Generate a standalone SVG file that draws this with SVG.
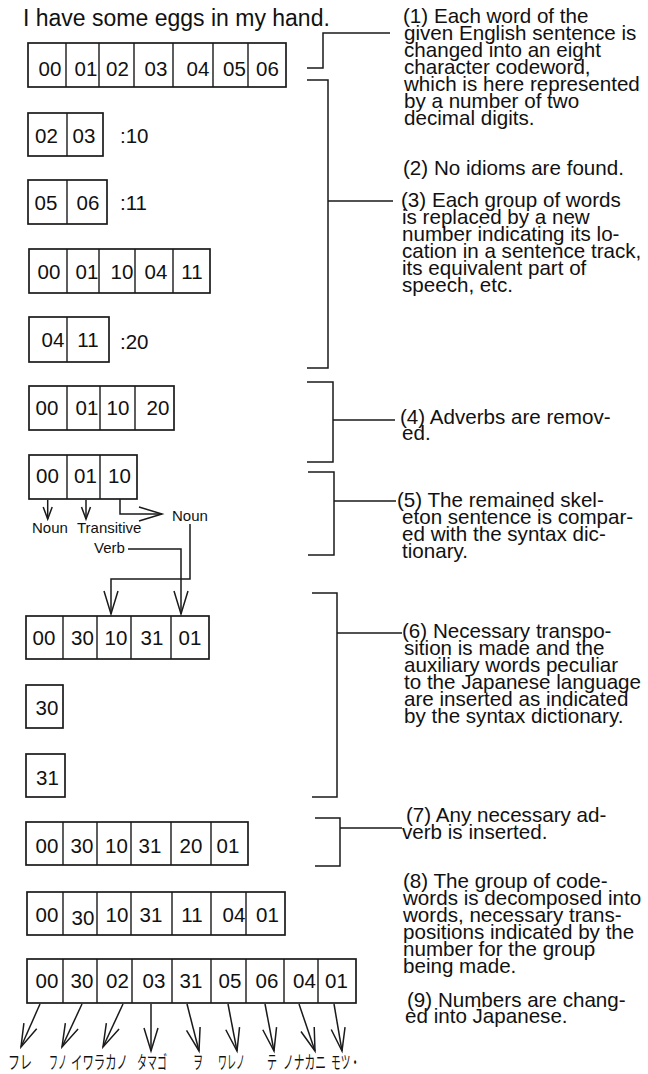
<svg xmlns="http://www.w3.org/2000/svg" width="648" height="1074" viewBox="0 0 648 1074">
<style>
.bx{fill:#fff;stroke:#1a1a1a;stroke-width:1.7}
.dv{stroke:#1a1a1a;stroke-width:1.4}
.d{font-family:"Liberation Sans",Arial,sans-serif;font-size:20.5px;fill:#111;text-anchor:middle}
.lbl{font-family:"Liberation Sans",Arial,sans-serif;font-size:20.5px;fill:#111}
.t{font-family:"Liberation Sans",Arial,sans-serif;font-size:20.6px;fill:#111}
.s{font-family:"Liberation Sans",Arial,sans-serif;font-size:15px;fill:#111}
.jp{font-family:"Noto Sans CJK JP","Noto Sans CJK SC",sans-serif;font-size:18px;fill:#111}
.c{fill:none;stroke:#1a1a1a;stroke-width:1.5}
</style>
<defs>
<marker id="ahS" markerUnits="userSpaceOnUse" viewBox="-14 -6 16 12" markerWidth="16" markerHeight="12" refX="0" refY="0" orient="auto" overflow="visible"><path d="M-12,-4.5 L0,0 L-12,4.5" fill="none" stroke="#1a1a1a" stroke-width="1.5"/></marker>
<marker id="ahL" markerUnits="userSpaceOnUse" viewBox="-26 -10 30 20" markerWidth="30" markerHeight="20" refX="0" refY="0" orient="auto" overflow="visible"><path d="M-23,-7 L0,0 L-23,7" fill="none" stroke="#1a1a1a" stroke-width="1.5"/></marker>
</defs>
<rect width="648" height="1074" fill="#fff"/>

<text class="lbl" x="23" y="26" style="font-size:23px">I have some eggs in my hand.</text>

<g id="row1">
<rect class="bx" x="28" y="43" width="258" height="44"/>
<path class="dv" d="M66,43V87M99,43V87M134,43V87M173,43V87M213,43V87M248,43V87"/>
<text class="d" y="76"><tspan x="50">00</tspan><tspan x="86">01</tspan><tspan x="117.5">02</tspan><tspan x="156">03</tspan><tspan x="198">04</tspan><tspan x="234.5">05</tspan><tspan x="267.5">06</tspan></text>
</g>
<g id="row2">
<rect class="bx" x="28" y="113" width="75" height="43"/>
<path class="dv" d="M67,113V156"/>
<text class="d" y="143"><tspan x="46.5">02</tspan><tspan x="84">03</tspan></text>
<text class="lbl" x="120" y="143">:10</text>
</g>
<g id="row3">
<rect class="bx" x="28" y="180" width="79" height="44"/>
<path class="dv" d="M67,180V224"/>
<text class="d" y="210"><tspan x="46">05</tspan><tspan x="88">06</tspan></text>
<text class="lbl" x="120" y="210">:11</text>
</g>
<g id="row4">
<rect class="bx" x="29" y="249" width="181" height="44"/>
<path class="dv" d="M67,249V293M99,249V293M135,249V293M173,249V293"/>
<text class="d" y="279"><tspan x="49">00</tspan><tspan x="87">01</tspan><tspan x="122">10</tspan><tspan x="156">04</tspan><tspan x="192">11</tspan></text>
</g>
<g id="row5">
<rect class="bx" x="29" y="317" width="80" height="45"/>
<path class="dv" d="M67,317V362"/>
<text class="d" y="347"><tspan x="53">04</tspan><tspan x="88">11</tspan></text>
<text class="lbl" x="120" y="349">:20</text>
</g>
<g id="row6">
<rect class="bx" x="29" y="386" width="145" height="44"/>
<path class="dv" d="M67,386V430M100,386V430M135,386V430"/>
<text class="d" y="415"><tspan x="47">00</tspan><tspan x="87">01</tspan><tspan x="118">10</tspan><tspan x="158">20</tspan></text>
</g>
<g id="row7">
<rect class="bx" x="29" y="455" width="108" height="44"/>
<path class="dv" d="M67,455V499M100,455V499"/>
<text class="d" y="483"><tspan x="47.5">00</tspan><tspan x="85.5">01</tspan><tspan x="119.5">10</tspan></text>
</g>
<g id="labels7">
<text class="s" x="32" y="533">Noun</text>
<text class="s" x="77" y="533">Transitive</text>
<text class="s" x="94" y="553">Verb</text>
<text class="s" x="172" y="521">Noun</text>
</g>
<g id="row8">
<rect class="bx" x="26" y="616" width="183" height="43"/>
<path class="dv" d="M63,616V659M97,616V659M131,616V659M171,616V659"/>
<text class="d" y="645"><tspan x="44">00</tspan><tspan x="82.5">30</tspan><tspan x="116">10</tspan><tspan x="152">31</tspan><tspan x="190">01</tspan></text>
</g>
<g id="row9">
<rect class="bx" x="26" y="685" width="37" height="43"/>
<text class="d" x="47" y="715">30</text>
</g>
<g id="row10">
<rect class="bx" x="26" y="754" width="39" height="43"/>
<text class="d" x="47.5" y="785">31</text>
</g>
<g id="row11">
<rect class="bx" x="26" y="822" width="222" height="43"/>
<path class="dv" d="M63,822V865M97,822V865M131,822V865M171,822V865M211,822V865"/>
<text class="d" y="853"><tspan x="47">00</tspan><tspan x="82">30</tspan><tspan x="116.5">10</tspan><tspan x="150">31</tspan><tspan x="191">20</tspan><tspan x="228">01</tspan></text>
</g>
<g id="row12">
<rect class="bx" x="27" y="892" width="258" height="43"/>
<path class="dv" d="M63,892V935M97,892V935M131,892V935M172,892V935M211,892V935M246,892V935"/>
<text class="d" y="922"><tspan x="47">00</tspan><tspan x="83" y="925">30</tspan><tspan x="117" y="922">10</tspan><tspan x="151">31</tspan><tspan x="192">11</tspan><tspan x="234">04</tspan><tspan x="267.5">01</tspan></text>
</g>
<g id="row13">
<rect class="bx" x="27" y="959" width="329" height="44"/>
<path class="dv" d="M63,959V1003M97,959V1003M132,959V1003M172,959V1003M211,959V1003M246,959V1003M284,959V1003M318,959V1003"/>
<text class="d" y="988"><tspan x="47">00</tspan><tspan x="82">30</tspan><tspan x="117.5">02</tspan><tspan x="154">03</tspan><tspan x="191">31</tspan><tspan x="230">05</tspan><tspan x="267">06</tspan><tspan x="304.5">04</tspan><tspan x="336.5">01</tspan></text>
</g>
<g id="japanese">
<text class="jp" x="8" y="1069" textLength="24" lengthAdjust="spacingAndGlyphs">フレ</text>
<text class="jp" x="49" y="1069" textLength="18" lengthAdjust="spacingAndGlyphs">フノ</text>
<text class="jp" x="71" y="1069" textLength="57" lengthAdjust="spacingAndGlyphs">イワラカノ</text>
<text class="jp" x="137" y="1069" textLength="30" lengthAdjust="spacingAndGlyphs">タマゴ</text>
<text class="jp" x="193" y="1069" textLength="10" lengthAdjust="spacingAndGlyphs">ヲ</text>
<text class="jp" x="218" y="1069" textLength="27" lengthAdjust="spacingAndGlyphs">ワレノ</text>
<text class="jp" x="267" y="1069" textLength="10" lengthAdjust="spacingAndGlyphs">テ</text>
<text class="jp" x="283" y="1069" textLength="43" lengthAdjust="spacingAndGlyphs">ノナカニ</text>
<text class="jp" x="331" y="1069" textLength="29" lengthAdjust="spacingAndGlyphs">モツ・</text>
</g>

<g id="connectors" class="c">
<path class="c" d="M47.7,500V519" marker-end="url(#ahS)"/>
<path class="c" d="M86,500V519" marker-end="url(#ahS)"/>
<path class="c" d="M120,499V514H162" marker-end="url(#ahL)"/>
<path class="c" d="M190,524V579H111V614" marker-end="url(#ahL)"/>
<path class="c" d="M128,549H181V614" marker-end="url(#ahL)"/>
<path class="c" d="M40,1004L21,1047" marker-end="url(#ahL)"/>
<path class="c" d="M82,1004L62,1047" marker-end="url(#ahL)"/>
<path class="c" d="M123,1004L103,1047" marker-end="url(#ahL)"/>
<path class="c" d="M151,1004V1051" marker-end="url(#ahL)"/>
<path class="c" d="M187,1004L199,1051" marker-end="url(#ahL)"/>
<path class="c" d="M228,1004L237,1051" marker-end="url(#ahL)"/>
<path class="c" d="M265,1004L274,1051" marker-end="url(#ahL)"/>
<path class="c" d="M299,1004L315,1051" marker-end="url(#ahL)"/>
<path class="c" d="M334,1004L342,1051" marker-end="url(#ahL)"/>
<path class="c" d="M307,68H323V33H390"/>
<path class="c" d="M307,80H328V368H307M328,201H393"/>
<path class="c" d="M307,382H333V462H307M333,420H395"/>
<path class="c" d="M308,472H334V555H308M334,501H396"/>
<path class="c" d="M312,593H337V797H312M337,633H402"/>
<path class="c" d="M315,818H340V866H315M340,828H402"/>
</g>

<g id="note1">
<text class="t"><tspan x="403" y="23">(1) Each word of the</tspan><tspan x="404" y="40">given English sentence is</tspan><tspan x="404" y="57">changed into an eight</tspan><tspan x="404" y="74">character codeword,</tspan><tspan x="404" y="91">which is here represented</tspan><tspan x="404" y="108">by a number of two</tspan><tspan x="404" y="125">decimal digits.</tspan></text>
</g>
<g id="note2"><text class="t" x="403" y="175">(2) No idioms are found.</text></g>
<g id="note3">
<text class="t"><tspan x="401" y="207">(3) Each group of words</tspan><tspan x="402" y="224">is replaced by a new</tspan><tspan x="402" y="241">number indicating its lo-</tspan><tspan x="402" y="258">cation in a sentence track,</tspan><tspan x="402" y="275">its equivalent part of</tspan><tspan x="402" y="292">speech, etc.</tspan></text>
</g>
<g id="note4">
<text class="t"><tspan x="400" y="424">(4) Adverbs are remov-</tspan><tspan x="402" y="440">ed.</tspan></text>
</g>
<g id="note5">
<text class="t"><tspan x="397" y="507">(5) The remained skel-</tspan><tspan x="402" y="524">eton sentence is compar-</tspan><tspan x="402" y="541">ed with the syntax dic-</tspan><tspan x="402" y="558">tionary.</tspan></text>
</g>
<g id="note6">
<text class="t"><tspan x="402" y="638">(6) Necessary transpo-</tspan><tspan x="404" y="655">sition is made and the</tspan><tspan x="404" y="672">auxiliary words peculiar</tspan><tspan x="404" y="689">to the Japanese language</tspan><tspan x="404" y="706">are inserted as indicated</tspan><tspan x="404" y="723">by the syntax dictionary.</tspan></text>
</g>
<g id="note7">
<text class="t"><tspan x="406" y="822">(7) Any necessary ad-</tspan><tspan x="402" y="839">verb is inserted.</tspan></text>
</g>
<g id="note8">
<text class="t"><tspan x="403" y="888">(8) The group of code-</tspan><tspan x="403" y="905">words is decomposed into</tspan><tspan x="403" y="922">words, necessary trans-</tspan><tspan x="403" y="939">positions indicated by the</tspan><tspan x="403" y="956">number for the group</tspan><tspan x="403" y="973">being made.</tspan></text>
</g>
<g id="note9">
<text class="t"><tspan x="407" y="1007">(9) Numbers are chang-</tspan><tspan x="405" y="1023">ed into Japanese.</tspan></text>
</g>
</svg>
